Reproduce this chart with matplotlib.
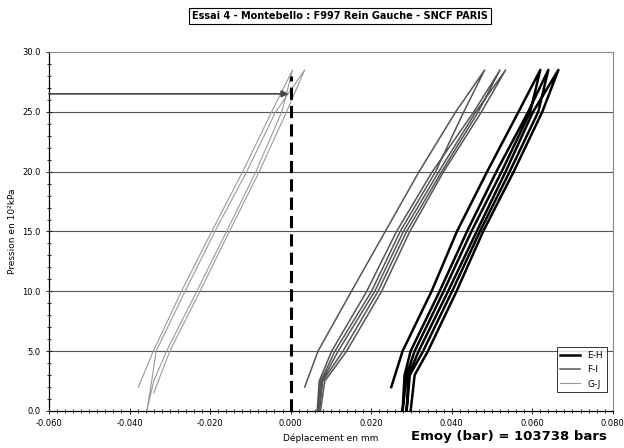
import matplotlib.pyplot as plt
from matplotlib.ticker import MultipleLocator, FormatStrFormatter

# E-H (bras droit) : charge / décharge successives
eh_x = [0.0250, 0.0278, 0.0350, 0.0413, 0.0488, 0.0566, 0.0620,
        0.0595, 0.0524, 0.0449, 0.0380, 0.0308, 0.0288, 0.0278,
        0.0283, 0.0298, 0.0370, 0.0438, 0.0511, 0.0590, 0.0640,
        0.0615, 0.0544, 0.0470, 0.0401, 0.0329, 0.0296, 0.0288,
        0.0293, 0.0318, 0.0391, 0.0462, 0.0534, 0.0602, 0.0665,
        0.0625, 0.0554, 0.0478, 0.0412, 0.0341, 0.0308, 0.0298]
eh_y = [2, 5, 10, 15, 20, 25, 28.5,
        25, 20, 15, 10, 5, 3, 0,
        3, 5, 10, 15, 20, 25, 28.5,
        25, 20, 15, 10, 5, 3, 0,
        3, 5, 10, 15, 20, 25, 28.5,
        25, 20, 15, 10, 5, 3, 0]

# F-I
fi_x = [0.0035, 0.0068, 0.0151, 0.0235, 0.0319, 0.0410, 0.0482,
        0.0430, 0.0360, 0.0272, 0.0201, 0.0110, 0.0075, 0.0066,
        0.0071, 0.0102, 0.0189, 0.0263, 0.0352, 0.0455, 0.0520,
        0.0466, 0.0375, 0.0288, 0.0217, 0.0130, 0.0080, 0.0070,
        0.0078, 0.0118, 0.0209, 0.0280, 0.0368, 0.0460, 0.0534,
        0.0474, 0.0380, 0.0296, 0.0226, 0.0139, 0.0085, 0.0074]
fi_y = [2, 5, 10, 15, 20, 25, 28.5,
        25, 20, 15, 10, 5, 2.5, 0,
        2.5, 5, 10, 15, 20, 25, 28.5,
        25, 20, 15, 10, 5, 2.5, 0,
        2.5, 5, 10, 15, 20, 25, 28.5,
        25, 20, 15, 10, 5, 2.5, 0]

# G-J
gj_x = [-0.0378, -0.0341, -0.0271, -0.0196, -0.0119, -0.0047, 0.0005,
        -0.0022, -0.0086, -0.0159, -0.0233, -0.0308, -0.0340, -0.0357,
        -0.0345, -0.0334, -0.0262, -0.0188, -0.0109, -0.0037, 0.0035,
        -0.0010, -0.0078, -0.0152, -0.0225, -0.0300, -0.0340]
gj_y = [2, 5, 10, 15, 20, 25, 28.5,
        25, 20, 15, 10, 5, 2.5, 0,
        2.5, 5, 10, 15, 20, 25, 28.5,
        25, 20, 15, 10, 5, 1.5]

arrow_y = 26.5
emoy = 103738

fig = plt.figure(figsize=(6.24, 4.48), dpi=100)
ax = fig.add_axes([0.0785, 0.0826, 0.9035, 0.8014])

for y in [5, 10, 15, 20, 25]:
    ax.axhline(y, color="#555555", lw=0.8, zorder=1)

ax.plot(eh_x, eh_y, color="black", lw=1.8, label="E-H", zorder=3)
ax.plot(fi_x, fi_y, color="#555555", lw=1.1, label="F-I", zorder=3)
ax.plot(gj_x, gj_y, color="#9a9a9a", lw=0.8, label="G-J", zorder=3)

ax.plot([0, 0], [0, 28], color="black", lw=2.2, dashes=(4, 2), zorder=4)
ax.annotate("", xy=(-0.0005, arrow_y), xytext=(-0.06, arrow_y),
            arrowprops=dict(arrowstyle="-|>", color="#444444", lw=1.2,
                            shrinkA=0, shrinkB=0), zorder=5)

ax.set_xlim(-0.06, 0.08)
ax.set_ylim(0, 30)
ax.xaxis.set_major_locator(MultipleLocator(0.02))
ax.xaxis.set_minor_locator(MultipleLocator(0.002))
ax.yaxis.set_major_locator(MultipleLocator(5))
ax.yaxis.set_minor_locator(MultipleLocator(1))
ax.xaxis.set_major_formatter(FormatStrFormatter("%.3f"))
ax.yaxis.set_major_formatter(FormatStrFormatter("%.1f"))
ax.tick_params(which="both", direction="inout", labelsize=6, width=0.6)
ax.tick_params(which="major", length=5)
ax.tick_params(which="minor", length=3)

for side in ["top", "right"]:
    ax.spines[side].set_linestyle((0, (1, 1)))
    ax.spines[side].set_color("#888888")
    ax.spines[side].set_linewidth(0.8)
for side in ["left", "bottom"]:
    ax.spines[side].set_linewidth(0.9)

ax.set_ylabel("Pression en 10²kPa", fontsize=6.5)
ax.set_xlabel("Déplacement en mm", fontsize=6.5, labelpad=4)

fig.text(0.545, 0.965, "Essai 4 - Montebello : F997 Rein Gauche - SNCF PARIS",
         ha="center", va="center", fontsize=7, fontweight="bold",
         bbox=dict(boxstyle="square,pad=0.3", fc="white", ec="black", lw=0.8))
fig.text(0.815, 0.025, "Emoy (bar) = %d bars" % emoy, ha="center", va="center",
         fontsize=9.5, fontweight="bold")

leg = ax.legend(loc="lower right", fontsize=6.5, frameon=True, fancybox=False,
                edgecolor="black", handlelength=2.2, borderpad=0.4,
                labelspacing=0.6, bbox_to_anchor=(0.997, 0.04))
leg.get_frame().set_linewidth(0.7)

fig.savefig("out.png", dpi=100)
